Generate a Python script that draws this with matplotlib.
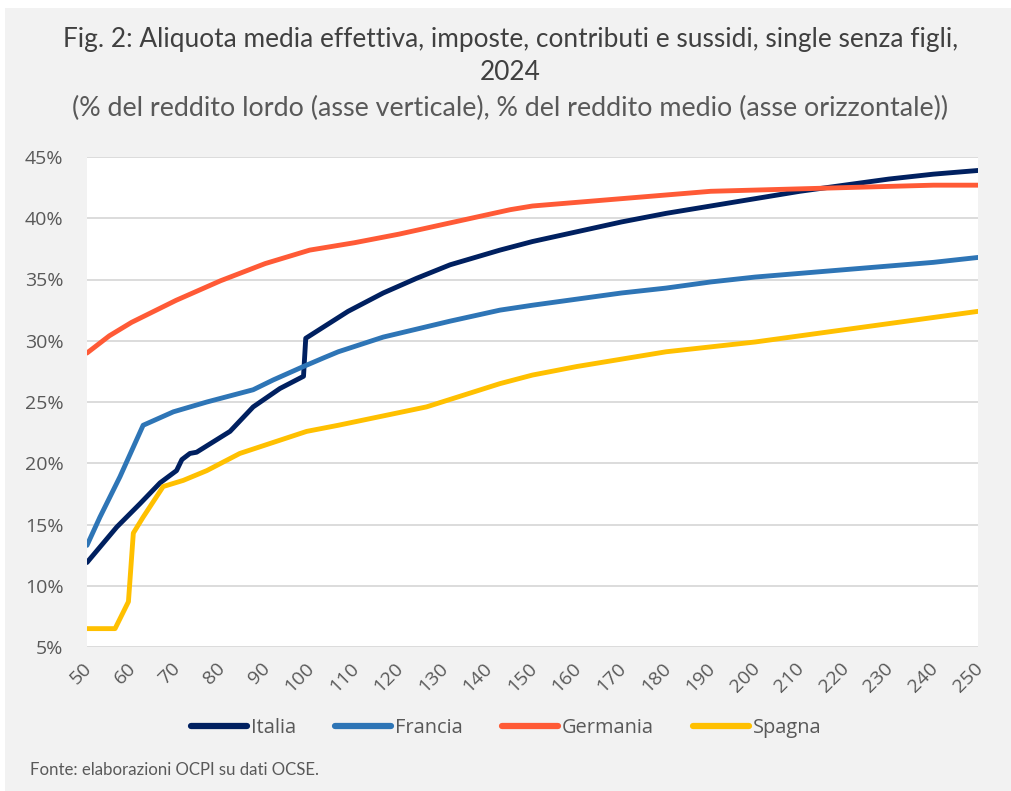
import matplotlib
matplotlib.use("Agg")
import matplotlib.pyplot as plt
from matplotlib.patches import Rectangle
from matplotlib.ticker import FuncFormatter, MultipleLocator
from matplotlib.transforms import ScaledTranslation

PANEL = "#f2f2f2"
INK = "#404040"
TICK = "#595959"
GRID = "#d9d9d9"
TITLE_FONT = ["Lato", "DejaVu Sans"]
FONT = ["Open Sans", "DejaVu Sans"]

# % of average income (x) vs average effective tax rate, % of gross income (y)
italia_x = [50, 56.7, 61.9, 66.4, 70.1, 71.3, 73.1, 74.6, 82.1, 87.3, 93.3, 98.6, 99.1,
            108.6, 116.5, 124, 131.5, 142.7, 150, 160, 170, 180, 190, 200, 210, 220,
            230, 240, 250]
italia_y = [11.9, 14.8, 16.7, 18.4, 19.4, 20.3, 20.8, 20.9, 22.6, 24.6, 26.1, 27.1, 30.2,
            32.4, 33.9, 35.1, 36.2, 37.4, 38.1, 38.9, 39.7, 40.4, 41.0, 41.6, 42.2, 42.7,
            43.2, 43.6, 43.9]

francia_x = [50, 52.9, 57.4, 62.6, 69.4, 76.9, 87.3, 91.8, 98.6, 103.1, 106.4, 116.5,
             131.5, 142.7, 150, 160, 170, 180, 190, 200, 210, 220, 230, 240, 250]
francia_y = [13.3, 15.6, 18.9, 23.1, 24.2, 25.0, 26.0, 26.8, 27.9, 28.6, 29.1, 30.3,
             31.6, 32.5, 32.9, 33.4, 33.9, 34.3, 34.8, 35.2, 35.5, 35.8, 36.1, 36.4, 36.8]

germania_x = [50, 55, 60, 70, 80, 90, 100, 110, 120, 130, 145, 150, 160, 170, 180, 190,
              200, 210, 220, 230, 240, 250]
germania_y = [29.0, 30.4, 31.5, 33.3, 34.9, 36.3, 37.4, 38.0, 38.7, 39.5, 40.7, 41.0,
              41.3, 41.6, 41.9, 42.2, 42.3, 42.4, 42.5, 42.6, 42.7, 42.7]

spagna_x = [50, 56.3, 59.3, 60.4, 62.6, 67.1, 71.6, 76.9, 84.3, 91.8, 99.3, 106.4,
            126.2, 142.7, 150, 160, 170, 180, 190, 200, 210, 220, 230, 240, 250]
spagna_y = [6.5, 6.5, 8.7, 14.3, 15.6, 18.1, 18.6, 19.4, 20.8, 21.7, 22.6, 23.1,
            24.6, 26.5, 27.2, 27.9, 28.5, 29.1, 29.5, 29.9, 30.4, 30.9, 31.4, 31.9, 32.4]

series = [
    ("Italia", italia_x, italia_y, "#002060"),
    ("Francia", francia_x, francia_y, "#2e75b6"),
    ("Germania", germania_x, germania_y, "#ff5a36"),
    ("Spagna", spagna_x, spagna_y, "#ffc000"),
]

W, H = 1011, 791
fig = plt.figure(figsize=(W / 100, H / 100), dpi=100)
fig.patch.set_facecolor("white")
fig.patches.append(Rectangle((5 / W, 0), 1, (H - 8) / H, transform=fig.transFigure,
                             facecolor=PANEL, edgecolor="none", zorder=-10))

ax = fig.add_axes([87 / W, 1 - 647 / H, (978 - 87) / W, (647 - 157) / H])
ax.set_facecolor("white")

for name, xs, ys, col in series:
    ax.plot(xs, ys, color=col, lw=3.5, solid_capstyle="round",
            solid_joinstyle="round", label=name)

ax.set_xlim(50, 250)
ax.set_ylim(5, 45)
ax.xaxis.set_major_locator(MultipleLocator(10))
ax.yaxis.set_major_locator(MultipleLocator(5))
ax.yaxis.set_major_formatter(FuncFormatter(lambda v, _: f"{v:.0f}%"))
ax.grid(axis="y", color=GRID, lw=1.3)
ax.set_axisbelow(True)
for s in ax.spines.values():
    s.set_visible(False)
ax.tick_params(length=0, colors=TICK, labelsize=14)
ax.tick_params(axis="y", pad=17)
ax.tick_params(axis="x", pad=4)
# nudge rotated x labels a little left and down, as in the source chart
nudge = ScaledTranslation(-4.6 / 100, -7 / 100, fig.dpi_scale_trans)
for lab in ax.get_xticklabels():
    lab.set_rotation(45)
    lab.set_ha("right")
    lab.set_rotation_mode("anchor")
    lab.set_transform(lab.get_transform() + nudge)
for lab in ax.get_xticklabels() + ax.get_yticklabels():
    lab.set_family(FONT)

fig.text(0.505, 1 - 40 / H, "Fig. 2: Aliquota media effettiva, imposte, contributi e sussidi, single senza figli,",
         ha="center", va="center", fontsize=18.9, color=INK, family=TITLE_FONT)
fig.text(0.505, 1 - 73 / H, "2024", ha="center", va="center", fontsize=18.9,
         color=INK, family=TITLE_FONT)
fig.text(0.505, 1 - 108 / H,
         "(% del reddito lordo (asse verticale), % del reddito medio (asse orizzontale))",
         ha="center", va="center", fontsize=19.4, color=TICK, family=TITLE_FONT)

leg = fig.legend(loc="center", bbox_to_anchor=(506 / W, 1 - 728 / H), ncol=4,
                 frameon=False, handlelength=2.8, handletextpad=0.2,
                 columnspacing=1.95, prop={"family": FONT, "size": 14.4})
for line in leg.get_lines():
    line.set_linewidth(4.5)
for t in leg.get_texts():
    t.set_color(TICK)

fig.text(30 / W, 1 - 770 / H, "Fonte: elaborazioni OCPI su dati OCSE.", ha="left",
         va="center", fontsize=12.1, color=TICK, family=TITLE_FONT)

fig.savefig("out.png", dpi=100, facecolor=fig.get_facecolor())
